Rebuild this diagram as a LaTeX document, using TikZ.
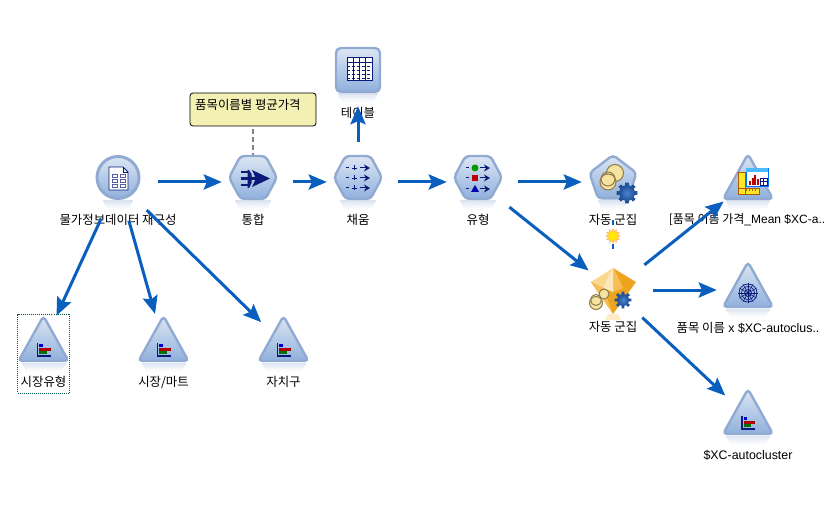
\documentclass[tikz,border=0pt]{standalone}
\usepackage{fontspec}
\setmainfont{Liberation Sans}
\newfontfamily\krfont{Noto Sans CJK KR}
\usetikzlibrary{arrows.meta,shapes.geometric}
\definecolor{flowblue}{HTML}{0A5FBE}
\definecolor{iconedge}{HTML}{90AAD2}
\definecolor{icontop}{HTML}{DDE6F3}
\definecolor{iconmid}{HTML}{B6CCE8}
\definecolor{iconlow}{HTML}{8FB0DC}
\definecolor{glyphnavy}{HTML}{0B1A78}
\definecolor{notefill}{HTML}{F4F0B4}
\definecolor{ringfill}{HTML}{F6E3A2}
\definecolor{ringedge}{HTML}{8E7A48}
\definecolor{gearedge}{HTML}{1F4F98}
\definecolor{gearmid}{HTML}{4D85CC}
\definecolor{gemgold}{HTML}{EDA51F}
\definecolor{gemmid}{HTML}{F6BE55}
\definecolor{gemlight}{HTML}{FBD88F}
\definecolor{gempale}{HTML}{FCE6BC}
\newcommand{\glow}[1]{%
  \foreach \k/\t in {0/32,1/24,2/16,3/9,4/4}
    \fill[iconedge!\t] (-#1+\k,18.5+1.8*\k) rectangle (#1-\k,20.5+1.8*\k);
}
\newcommand{\gearat}[3]{%
  \foreach \a in {0,45,...,315}
    \fill[gearedge] ([shift={(#1,#2)}]\a-14:#3-1) -- ([shift={(#1,#2)}]\a-10:#3+2.5) -- ([shift={(#1,#2)}]\a+10:#3+2.5) -- ([shift={(#1,#2)}]\a+14:#3-1) -- cycle;
  \shade[inner color=gearmid,outer color=gearedge] (#1,#2) circle (#3);
}
\tikzset{
  slot/.style={circle,minimum size=48pt,inner sep=0pt},
  lbl/.style={inner sep=0pt,font=\fontsize{12.4}{14}\selectfont},
  flow/.style={draw=flowblue,line width=3pt,-{Stealth[length=18pt,width=15pt,inset=3pt]},shorten <=16pt,shorten >=7pt},
  icon/.style={draw=iconedge,line width=2.4pt,rounded corners=4pt,top color=icontop,middle color=iconmid,bottom color=iconlow},
  notebox/.style={draw=black,fill=notefill,rounded corners=3pt,line width=0.8pt,minimum width=126pt,minimum height=33pt,inner sep=0pt},
  notelink/.style={draw=gray,line width=1.5pt,dash pattern=on 5pt off 3pt},
  refresh/.style={draw=flowblue,line width=1.5pt,dash pattern=on 5pt off 19pt},
  selbox/.style={draw=teal!70!black,densely dotted,line width=1pt,minimum width=52pt,minimum height=79pt,inner sep=0pt},
  sun/.style={star,star points=12,star point ratio=1.5,minimum size=14pt,inner sep=0pt,fill=yellow!90!orange,draw=orange!50,line width=0.8pt},
  ring/.style={draw=ringedge,fill=ringfill,line width=1pt},
  triicon/.pic={
    \glow{22}
    \path[icon] (0,-28) -- (25,17) -- (-25,17) -- cycle;
  },
  hexicon/.pic={
    \glow{18}
    \path[icon] (-24,-4.5) -- (-12.5,-26) -- (12.5,-26) -- (24,-4.5) -- (12.5,17) -- (-12.5,17) -- cycle;
  },
  barglyph/.pic={
    \fill[glyphnavy] (-7,-1) rectangle (-5.2,13);
    \fill[glyphnavy] (-7,11.4) rectangle (7,13);
    \fill[blue!80!black] (-4.5,0) rectangle (-1,3);
    \fill[red!70!black] (-4.5,3.6) rectangle (7,6.6);
    \fill[green!45!black] (-4.5,7.4) rectangle (3,10.4);
  },
  rowglyph/.pic={
    \draw[glyphnavy,line width=1pt] (-12,0) -- (-9,0);
    \draw[glyphnavy,line width=1pt,-{Stealth[length=6pt,width=7pt]}] (2,0) -- (12,0);
  }
}
\begin{document}
\begin{tikzpicture}[x=1pt,y=-1pt]
    \useasboundingbox (0,0) rectangle (828,508);
    % Node slots
    \node[slot] (data) at (118,182) {};
    \node[slot] (merge) at (253,182) {};
    \node[slot] (fillin) at (358,182) {};
    \node[slot] (typer) at (478,182) {};
    \node[slot] (table) at (358,75) {};
    \node[slot] (model) at (613,182) {};
    \node[slot] (gem) at (613,290) {};
    \node[slot] (plot) at (748,182) {};
    \node[slot] (mesh) at (748,290) {};
    \node[slot] (xcbar) at (748,417) {};
    \node[slot] (market) at (43.5,344) {};
    \node[slot] (mart) at (163.5,344) {};
    \node[slot] (district) at (283.5,344) {};
    % Selection and note
    \node[selbox] (marketsel) at (43.5,353.5) {};
    \node[notebox] (note) at (253,109.5) {};
    \node[lbl,anchor=west] (notetext) at (195,105) {\krfont 품목이름별 평균가격};
    \draw[notelink,shorten <=3pt,shorten >=-3pt] (note.south) -- (merge.north);
    % Data source
    \begin{scope}[shift={(data)}]
      \glow{15}
      \draw[draw=iconedge,line width=3pt,top color=icontop,bottom color=iconlow] (0,-4.5) circle (21);
      \draw[glyphnavy,fill=white,line width=0.8pt] (-9,-15) -- (5,-15) -- (10,-10) -- (10,8) -- (-9,8) -- cycle;
      \draw[glyphnavy,line width=0.6pt] (5,-15) -- (5,-10) -- (10,-10);
      \foreach \y in {-8,-3,2} {
        \draw[glyphnavy!70,line width=0.6pt] (-6,\y) rectangle (-1,\y+3);
        \draw[glyphnavy!70,line width=0.6pt] (2,\y) rectangle (7,\y+3);
      }
    \end{scope}
    % Table output
    \begin{scope}[shift={(table)}]
      \glow{20}
      \path[icon,rounded corners=5pt,top color=icontop,bottom color=iconlow] (-22,-27) rectangle (22,17);
      \fill[white] (-11,-17) rectangle (14,6);
      \draw[glyphnavy,line width=1pt] (-11,-17) rectangle (14,6);
      \draw[glyphnavy,line width=0.8pt] (-11,-13) -- (14,-13);
      \foreach \x in {-5,1,7}
        \draw[glyphnavy,line width=0.8pt] (\x,-17) -- (\x,6);
      \foreach \y in {-9,-5,-1,3}
        \draw[glyphnavy,line width=0.5pt,densely dashed] (-11,\y) -- (14,\y);
    \end{scope}
    % Hexagons
    \pic at (merge) {hexicon};
    \pic at (fillin) {hexicon};
    \pic at (typer) {hexicon};
    \begin{scope}[shift={(merge)}]
      \fill[glyphnavy] (-1,-12) -- (17,-3.5) -- (-1,5) -- (3,-3.5) -- cycle;
      \fill[glyphnavy] (-4,-12) -- (-1.5,-8) -- (-1.5,-5) -- (3,-5) -- (3,-2) -- (-1.5,-2) -- (-1.5,1) -- (-4,6) -- (-5.5,6) -- (-5.5,-12) -- cycle;
      \foreach \y in {-10,-3.5,3}
        \draw[glyphnavy,line width=2.6pt] (-12.5,\y) -- (-4,\y);
    \end{scope}
    \begin{scope}[shift={(fillin)}]
      \foreach \y in {-14,-4,6} {
        \pic at (0,\y) {rowglyph};
        \draw[glyphnavy,line width=0.8pt] (-6,\y) -- (-1,\y);
        \draw[glyphnavy,line width=0.8pt] (-3.5,\y-2.5) -- (-3.5,\y+2.5);
      }
    \end{scope}
    \begin{scope}[shift={(typer)}]
      \pic at (0,-14) {rowglyph};
      \pic at (0,-4) {rowglyph};
      \pic at (0,7) {rowglyph};
      \fill[green!60!black] (-3,-14) circle (3.5);
      \fill[red!75!black] (-6,-7) rectangle (0,-1);
      \fill[blue!70!black] (-7,10) -- (1,10) -- (-3,3) -- cycle;
    \end{scope}
    % Auto cluster model
    \begin{scope}[shift={(model)}]
      \glow{15}
      \path[icon] (0,-27) -- (23.5,-9) -- (15,16.5) -- (-15,16.5) -- (-23.5,-9) -- cycle;
      \draw[ring] (2,-9) circle (8.5);
      \draw[ring] (-5,0) circle (8);
      \draw[ringedge,line width=1pt] (-5,-3) circle (7);
      \gearat{14}{11}{8}
    \end{scope}
    % Refresh link
    \draw[refresh,shorten <=14pt,shorten >=16pt] (model) -- (gem);
    \node[sun] (spark) at (613,236) {};
    % Gem nugget
    \begin{scope}[shift={(gem)}]
      \fill[gemlight!50] (-5,24) -- (5,24) -- (8,30) -- (-8,30) -- cycle;
      \fill[gemgold] (-22,-8) -- (23,-8) -- (0,24) -- cycle;
      \fill[gemgold] (0,-22) -- (23,-8) -- (10,-2) -- cycle;
      \fill[gemlight] (0,-22) -- (-22,-8) -- (-10,-2) -- cycle;
      \fill[gemmid] (0,-22) -- (10,-2) -- (0,2) -- cycle;
      \fill[gempale] (0,-22) -- (-10,-2) -- (0,2) -- cycle;
      \fill[gemmid] (-22,-8) -- (-10,-2) -- (0,24) -- cycle;
      \draw[ring] (-9,4) circle (5);
      \draw[ring] (-17,13) circle (6.5);
      \draw[ringedge,line width=1pt] (-17,10) circle (5.5);
      \gearat{10}{10}{6}
    \end{scope}
    % Graph icons
    \pic at (plot) {triicon};
    \pic at (mesh) {triicon};
    \pic at (xcbar) {triicon};
    \pic at (market) {triicon};
    \pic at (mart) {triicon};
    \pic at (district) {triicon};
    \pic at (xcbar) {barglyph};
    \pic at (market) {barglyph};
    \pic at (mart) {barglyph};
    \pic at (district) {barglyph};
    \begin{scope}[shift={(plot)}]
      \fill[yellow!85!orange!85!white] (-10,-10) rectangle (-3,12);
      \fill[yellow!85!orange!85!white] (-10,6) rectangle (11,12);
      \draw[orange!70!black,line width=0.4pt] (-10,-10) rectangle (-3,12);
      \draw[orange!70!black,line width=0.4pt] (-10,6) rectangle (11,12);
      \foreach \x in {-2,1,4,7}
        \draw[orange!70!black,line width=0.4pt] (\x,6) -- (\x,9);
      \fill[white] (-2,-14) rectangle (20,4);
      \draw[blue!55!cyan,line width=0.8pt] (-2,-14) rectangle (20,4);
      \fill[blue!40!cyan!70!white] (-2,-14) rectangle (20,-10);
      \foreach \x/\h in {1/4,3.5/7,6/10,8.5/6}
        \fill[red!75!black] (\x,3) rectangle (\x+2,3-\h);
      \draw[glyphnavy,line width=0.5pt] (12,-4) rectangle (19,3);
      \draw[glyphnavy,line width=0.5pt] (12,-0.5) -- (19,-0.5) (15.5,-4) -- (15.5,3);
    \end{scope}
    \begin{scope}[shift={(mesh)}]
      \foreach \r in {3.5,6.5,9}
        \draw[glyphnavy,line width=0.7pt] (0,3) circle (\r);
      \foreach \a in {0,30,...,150}
        \draw[glyphnavy,line width=0.6pt] ([shift={(0,3)}]\a:10) -- ([shift={(0,3)}]\a+180:10);
    \end{scope}
    % Labels
    \node[lbl] (datalabel) at (118,220) {\krfont 물가정보데이터 재구성};
    \node[lbl] (mergelabel) at (253,220) {\krfont 통합};
    \node[lbl] (filllabel) at (358,220) {\krfont 채움};
    \node[lbl] (typelabel) at (478,220) {\krfont 유형};
    \node[lbl] (tablelabel) at (358,113) {\krfont 테이블};
    \node[lbl] (modellabel) at (613,220) {\krfont 자동 군집};
    \node[lbl] (gemlabel) at (613,327) {\krfont 자동 군집};
    \node[lbl,font=\fontsize{12}{14}\selectfont] (plotlabel) at (747,220) {{\krfont [품목 이름 가격}\_Mean \$XC-a..};
    \node[lbl] (meshlabel) at (748,328) {{\krfont 품목 이름} x \$XC-autoclus..};
    \node[lbl] (xclabel) at (748,455) {\$XC-autocluster};
    \node[lbl] (marketlabel) at (43.5,382) {\krfont 시장유형};
    \node[lbl] (martlabel) at (163.5,382) {\krfont 시장/마트};
    \node[lbl] (districtlabel) at (283.5,382) {\krfont 자치구};
    % Flows
    \draw[flow] (data) -- (merge);
    \draw[flow] (merge) -- (fillin);
    \draw[flow] (fillin) -- (typer);
    \draw[flow] (fillin) -- (table);
    \draw[flow] (typer) -- (model);
    \draw[flow] (typer) -- (gem);
    \draw[flow] (gem) -- (plot);
    \draw[flow] (gem) -- (mesh);
    \draw[flow] (gem) -- (xcbar);
    \draw[flow] (data) -- (market);
    \draw[flow] (data) -- (mart);
    \draw[flow] (data) -- (district);
\end{tikzpicture}
\end{document}
